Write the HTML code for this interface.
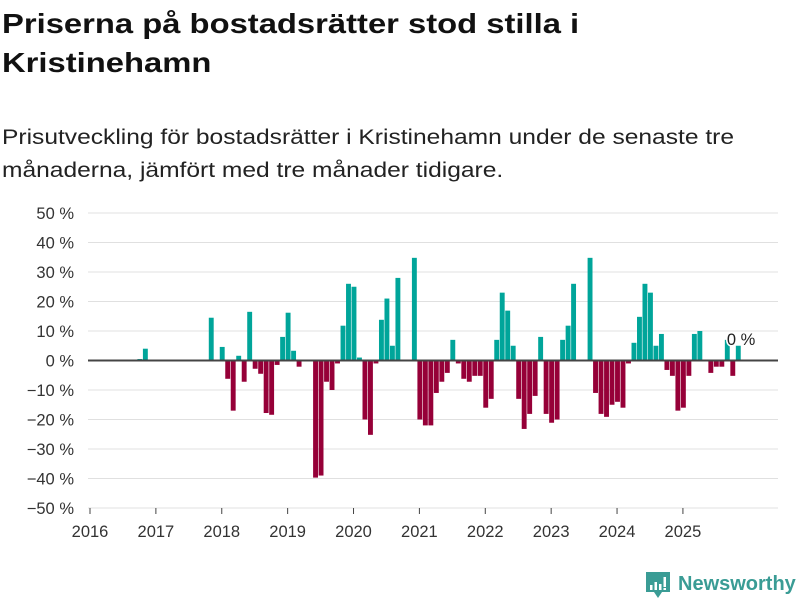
<!DOCTYPE html>
<html><head><meta charset="utf-8"><style>
body{margin:0;background:#fff;font-family:"Liberation Sans",sans-serif;}
#wrap{position:relative;width:800px;height:600px;overflow:hidden;}
h1{position:absolute;left:2px;top:4px;margin:0;font-size:28px;line-height:39px;font-weight:bold;color:#111;transform:scaleX(1.17);transform-origin:0 0;white-space:nowrap}
p{position:absolute;left:2px;top:121px;margin:0;font-size:21px;line-height:33px;color:#222;transform:scaleX(1.17);transform-origin:0 0;white-space:nowrap}
svg{position:absolute;left:0;top:0}
</style></head><body>
<div id="wrap">
<h1>Priserna på bostadsrätter stod stilla i<br>Kristinehamn</h1>
<p>Prisutveckling för bostadsrätter i Kristinehamn under de senaste tre<br>månaderna, jämfört med tre månader tidigare.</p>
<svg id="chart" width="800" height="600"></svg>
</div>
<script>
const yTicks=[50,40,30,20,10,0,-10,-20,-30,-40,-50];
const years=[2016,2017,2018,2019,2020,2021,2022,2023,2024,2025];
const startYear=2016;
// monthly values from Jan 2016 (index 0) to Oct 2025
const values=[0,0,0,0,0,0,0,0,0.5,4,0,0,
0,0,0,0,0,0,0,0,0,14.5,0,4.6,
-6.2,-17,1.6,-7.2,16.5,-2.8,-4.5,-17.8,-18.4,-1.5,8,16.2,
3.3,-2.1,0,0,-39.7,-39,-7.2,-10,-1,11.8,26,25,
1,-20,-25.2,-1,13.8,21,5,28,0,0,34.8,-20,
-22,-22,-11,-7.2,-4.2,7,-1,-6.2,-7.2,-5.2,-5.2,-16,
-13,7,23,16.9,5,-13,-23.2,-18.1,-12,8,-18.1,-21.1,
-20,7,11.8,26,0,0,34.8,-11,-18.1,-19.1,-15,-14,
-16,-1,6,14.8,26,23,5,9,-3.2,-5.2,-17,-16,
-5.2,9,10,0,-4.2,-2.1,-2.1,7,-5.2,5];
const lastLabel="0 %";
const NS="http://www.w3.org/2000/svg";
const svg=document.getElementById('chart');
const X0=90,MONTH=5.49,Y0=360.5,YPX=2.95;
function xScale(i){return X0+3.5+i*MONTH;}
function yScale(v){return Y0-v*YPX;}
function mk(t,a){const e=document.createElementNS(NS,t);for(const k in a)e.setAttribute(k,a[k]);svg.appendChild(e);return e;}
yTicks.forEach(v=>{
 const l=mk('line',{x1:88,x2:778,y1:yScale(v),y2:yScale(v),stroke:'#e0e0e0','stroke-width':1});
 
 
 const t=mk('text',{x:74,y:yScale(v)+6,'text-anchor':'end','font-size':16.5,fill:'#333','font-family':'Liberation Sans, sans-serif'});
 t.textContent=(v<0?'\u2212'+(-v):v)+' %';
 
 
});
years.forEach(y=>{
 const x=X0+(y-startYear)*12*MONTH;
 const tk=mk('line',{x1:x,x2:x,y1:508,y2:514,stroke:'#444','stroke-width':1});
 
 
 const t=mk('text',{x:x,y:537,'text-anchor':'middle','font-size':16.5,fill:'#333','font-family':'Liberation Sans, sans-serif'});
 t.textContent=y;
 
 
});
values.forEach((v,i)=>{
 if(v===0)return;
 const y=v>0?yScale(v):Y0, h=Math.abs(v)*YPX;
 const r=mk('rect',{x:xScale(i),y:y,width:4.9,height:h,fill:v>0?'#00a59a':'#960038'});
 
 
});
const z=mk('line',{x1:88,x2:778,y1:Y0,y2:Y0,stroke:'#444','stroke-width':2});


const li=values.length-1;
const lab=mk('text',{x:xScale(li)-9,y:yScale(values[li])-1,'font-size':16.5,fill:'#222',stroke:'#fff','stroke-width':3,'paint-order':'stroke','font-family':'Liberation Sans, sans-serif'});
lab.textContent=lastLabel;


// logo
const g=mk('g',{});


g.innerHTML='<path d="M646 572h24v20h-8l-4 6-4-6h-8z" fill="#3a9c95"/><rect x="650" y="585" width="2.5" height="5" fill="#fff"/><rect x="654.5" y="582" width="2.5" height="8" fill="#fff"/><rect x="659" y="584" width="2.5" height="6" fill="#fff"/><rect x="663.5" y="577" width="2.5" height="10" fill="#fff"/><rect x="663.5" y="588" width="2.5" height="2" fill="#fff"/><text x="678" y="590" font-size="20" font-weight="bold" fill="#3a9c95" font-family="Liberation Sans, sans-serif">Newsworthy</text>';
</script>
</body></html>
